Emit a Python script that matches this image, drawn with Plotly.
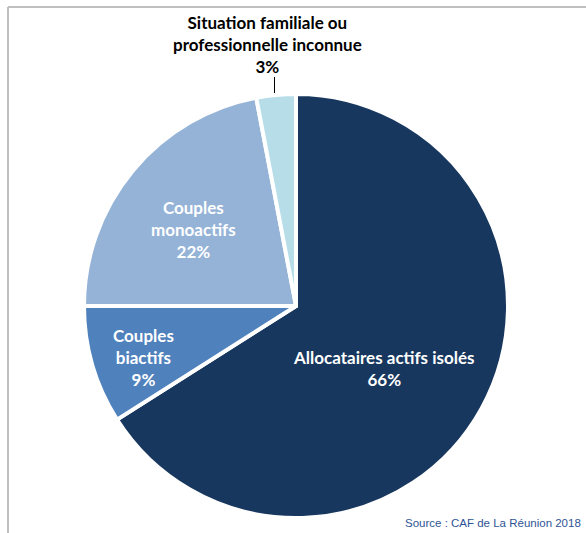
import plotly.graph_objects as go

labels = ["Allocataires actifs isolés", "Couples biactifs", "Couples monoactifs",
          "Situation familiale ou professionnelle inconnue"]
values = [66, 9, 22, 3]
colors = ["#17375E", "#4F81BD", "#95B3D7", "#B7DEE8"]
label_lines = ["Allocataires actifs isolés", "Couples<br>biactifs", "Couples<br>monoactifs",
               "Situation familiale ou<br>professionnelle inconnue"]
source_text = "Source : CAF de La Réunion 2018"

W, H = 586, 533
cx, cy, r = 296, 306, 212

fig = go.Figure(go.Pie(
    labels=labels, values=values, sort=False, direction="clockwise", rotation=0,
    marker=dict(colors=colors, line=dict(color="white", width=4)),
    textinfo="none", hoverinfo="label+percent", showlegend=False,
    domain=dict(x=[(cx - r) / W, (cx + r) / W], y=[1 - (cy + r) / H, 1 - (cy - r) / H]),
))

# label positions (pixels) for each slice
pos = [(384, 368), (143, 357), (193, 229), (267, 44)]
font_colors = ["white", "white", "white", "black"]
annotations = []
for i, (lab, v) in enumerate(zip(label_lines, values)):
    x, y = pos[i]
    annotations.append(dict(
        x=x / W, y=1 - y / H, xref="paper", yref="paper", showarrow=False,
        text=f"<b>{lab}<br>{v}%</b>", align="center",
        font=dict(family="Lato", size=17, color=font_colors[i]),
        xanchor="center", yanchor="middle",
    ))
annotations.append(dict(
    x=583 / W, y=1 - 523 / H, xref="paper", yref="paper", showarrow=False,
    text=source_text, xanchor="right", yanchor="middle",
    font=dict(family="Liberation Sans, Arial", size=11.5, color="#2F5496"),
))

shapes = [
    dict(type="line", xref="paper", yref="paper", x0=8 / W, x1=1.01, y0=1 - 7 / H, y1=1 - 7 / H,
         line=dict(color="#BFBFBF", width=2)),
    dict(type="line", xref="paper", yref="paper", x0=8 / W, x1=8 / W, y0=1 - 7 / H, y1=-0.01,
         line=dict(color="#BFBFBF", width=2)),
    dict(type="line", xref="paper", yref="paper", x0=274.5 / W, x1=274.5 / W,
         y0=1 - 77 / H, y1=1 - 93 / H, line=dict(color="black", width=1)),
]

fig.update_layout(
    width=W, height=H, margin=dict(l=0, r=0, t=0, b=0),
    paper_bgcolor="white", plot_bgcolor="white",
    annotations=annotations, shapes=shapes,
)
fig.write_html("out.html", config={"displayModeBar": False},
               post_script="document.body.style.margin='0';document.body.style.overflow='hidden';")
